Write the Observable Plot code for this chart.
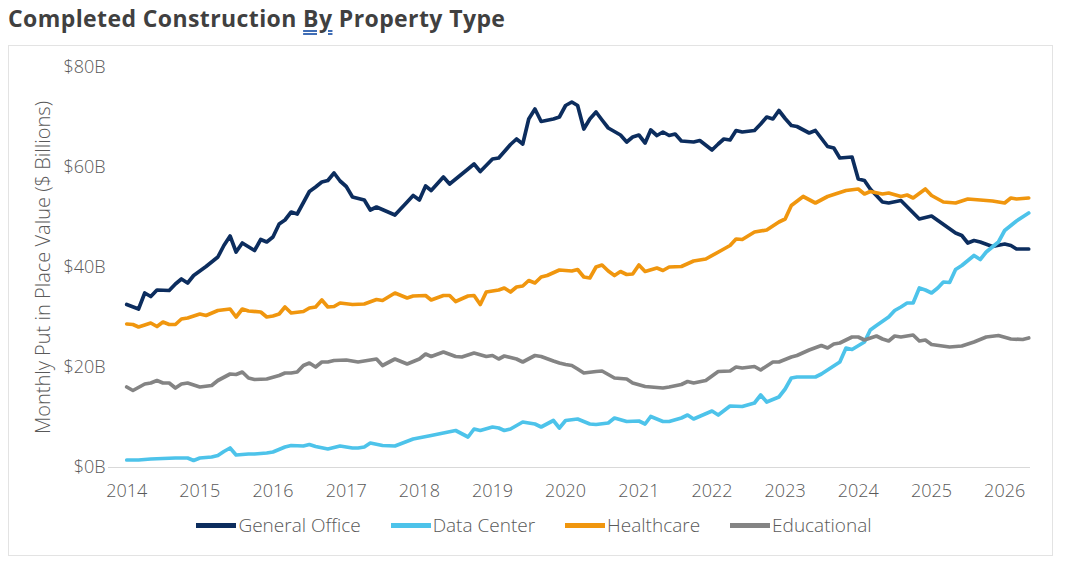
<!DOCTYPE html>
<html><head><meta charset="utf-8">
<script src="https://cdn.jsdelivr.net/npm/d3@7"></script>
<script src="https://cdn.jsdelivr.net/npm/@observablehq/plot@0.6"></script>
<style>
body{margin:0;background:#fff;font-family:"Open Sans",sans-serif;}
#wrap{position:relative;width:1068px;height:571px;overflow:hidden;}
#title{position:absolute;left:8px;top:2px;font-size:23px;letter-spacing:0.4px;font-weight:bold;color:#404040;white-space:nowrap;}
#title u{text-decoration:underline double #3f6db5;text-underline-offset:3px;}
#box{position:absolute;left:8px;top:45px;width:1043px;height:509px;border:1px solid #e3e3e3;}
#chart{position:absolute;left:0;top:45px;}
#legend{position:absolute;top:512px;left:0;width:1068px;display:flex;justify-content:center;gap:30px;font-size:19px;font-weight:300;color:#595959;}
.item{display:flex;align-items:center;}
.sw{display:inline-block;width:40px;height:5px;margin-right:2px;}
</style></head>
<body>
<div id="wrap">
  <div id="title">Completed Construction <u>By</u> Property Type</div>
  <div id="box"></div>
  <div id="chart"></div>
  <div id="legend"></div>
</div>
<script>
const seriesNames = ["General Office", "Data Center", "Healthcare", "Educational"];
const seriesColors = ["#0c2d5e", "#4dc3ea", "#f0960e", "#848484"];
const yearTicks = [2014,2015,2016,2017,2018,2019,2020,2021,2022,2023,2024,2025,2026];
const yTicks = [0, 20, 40, 60, 80];

const generalOffice = [["2014-01",32.6],["2014-03",31.7],["2014-04",34.9],["2014-05",34.2],["2014-06",35.5],["2014-08",35.4],["2014-09",36.7],["2014-10",37.7],["2014-11",36.9],["2014-12",38.4],["2015-02",40.2],["2015-04",42.1],["2015-05",44.4],["2015-06",46.3],["2015-07",43.1],["2015-08",44.9],["2015-10",43.4],["2015-11",45.6],["2015-12",45.1],["2016-01",46.1],["2016-02",48.7],["2016-03",49.5],["2016-04",51.1],["2016-05",50.7],["2016-07",55.2],["2016-08",56.1],["2016-09",57.1],["2016-10",57.4],["2016-11",58.9],["2016-12",57.3],["2017-01",56.2],["2017-02",54.1],["2017-04",53.5],["2017-05",51.5],["2017-06",52.1],["2017-09",50.5],["2017-11",53.1],["2017-12",54.4],["2018-01",53.5],["2018-02",56.3],["2018-03",55.4],["2018-05",58.1],["2018-06",56.7],["2018-09",59.7],["2018-10",60.7],["2018-11",59.2],["2019-01",61.7],["2019-02",61.9],["2019-04",64.6],["2019-05",65.7],["2019-06",64.7],["2019-07",69.7],["2019-08",71.7],["2019-09",69.2],["2019-11",69.7],["2019-12",70.1],["2020-01",72.4],["2020-02",73.1],["2020-03",72.4],["2020-04",67.7],["2020-05",69.7],["2020-06",71.1],["2020-07",69.5],["2020-08",67.9],["2020-10",66.5],["2020-11",65.1],["2020-12",66.1],["2021-01",66.5],["2021-02",64.9],["2021-03",67.5],["2021-04",66.4],["2021-05",67.1],["2021-06",66.4],["2021-07",66.7],["2021-08",65.3],["2021-10",65.1],["2021-11",65.4],["2022-01",63.5],["2022-02",64.7],["2022-03",65.7],["2022-04",65.5],["2022-05",67.4],["2022-06",67.1],["2022-08",67.4],["2022-09",68.7],["2022-10",70.1],["2022-11",69.7],["2022-12",71.4],["2023-01",69.8],["2023-02",68.4],["2023-03",68.2],["2023-05",66.9],["2023-06",67.4],["2023-08",64.2],["2023-09",63.9],["2023-10",61.9],["2023-12",62.1],["2024-01",57.7],["2024-02",57.4],["2024-03",55.7],["2024-05",53.1],["2024-06",52.9],["2024-08",53.4],["2024-11",49.7],["2025-01",50.3],["2025-05",46.9],["2025-06",46.4],["2025-07",44.9],["2025-08",45.4],["2025-09",45.1],["2025-11",44.2],["2026-01",44.7],["2026-02",44.4],["2026-03",43.7],["2026-05",43.7]];

const dataCenter = [["2014-01",1.5],["2014-03",1.5],["2014-05",1.7],["2014-07",1.8],["2014-09",1.9],["2014-11",1.9],["2014-12",1.4],["2015-01",1.9],["2015-03",2.1],["2015-04",2.4],["2015-05",3.2],["2015-06",3.9],["2015-07",2.5],["2015-09",2.7],["2015-10",2.7],["2015-12",2.9],["2016-01",3.1],["2016-03",4.1],["2016-04",4.4],["2016-06",4.3],["2016-07",4.6],["2016-08",4.2],["2016-10",3.7],["2016-12",4.3],["2017-02",3.9],["2017-03",3.9],["2017-04",4.1],["2017-05",4.9],["2017-07",4.4],["2017-09",4.3],["2017-12",5.7],["2018-03",6.4],["2018-05",6.9],["2018-07",7.4],["2018-09",6.1],["2018-10",7.7],["2018-11",7.4],["2019-01",8.1],["2019-02",7.9],["2019-03",7.4],["2019-04",7.7],["2019-06",9.1],["2019-07",8.9],["2019-08",8.7],["2019-09",8.1],["2019-11",9.4],["2019-12",7.9],["2020-01",9.4],["2020-03",9.7],["2020-05",8.7],["2020-06",8.6],["2020-08",8.9],["2020-09",9.9],["2020-11",9.2],["2021-01",9.3],["2021-02",8.7],["2021-03",10.2],["2021-05",9.2],["2021-06",9.2],["2021-08",9.9],["2021-09",10.5],["2021-10",9.7],["2022-01",11.3],["2022-02",10.5],["2022-04",12.3],["2022-06",12.2],["2022-08",12.9],["2022-09",14.5],["2022-10",13.1],["2022-12",14.1],["2023-01",15.7],["2023-02",17.9],["2023-03",18.1],["2023-06",18.1],["2023-07",18.7],["2023-10",21.1],["2023-11",23.9],["2023-12",23.6],["2024-02",25.1],["2024-03",27.5],["2024-04",28.4],["2024-06",30.1],["2024-07",31.4],["2024-08",32.1],["2024-09",32.9],["2024-10",32.9],["2024-11",35.9],["2024-12",35.5],["2025-01",34.9],["2025-02",35.9],["2025-03",37.1],["2025-04",37.0],["2025-05",39.6],["2025-06",40.4],["2025-08",42.4],["2025-09",41.6],["2025-10",43.1],["2025-12",45.1],["2026-01",47.4],["2026-03",49.3],["2026-05",50.9]];

const healthcare = [["2014-01",28.7],["2014-02",28.6],["2014-03",28.1],["2014-04",28.5],["2014-05",28.9],["2014-06",28.2],["2014-07",29.1],["2014-08",28.6],["2014-09",28.6],["2014-10",29.7],["2014-11",29.9],["2015-01",30.7],["2015-02",30.4],["2015-04",31.4],["2015-06",31.7],["2015-07",30.1],["2015-08",31.7],["2015-09",31.3],["2015-11",31.1],["2015-12",30.1],["2016-01",30.3],["2016-02",30.7],["2016-03",32.1],["2016-04",30.9],["2016-06",31.2],["2016-07",31.9],["2016-08",32.1],["2016-09",33.5],["2016-10",32.1],["2016-11",32.2],["2016-12",32.9],["2017-02",32.6],["2017-04",32.7],["2017-06",33.6],["2017-07",33.4],["2017-09",34.9],["2017-11",33.9],["2017-12",34.3],["2018-02",34.4],["2018-03",33.5],["2018-05",34.4],["2018-06",34.4],["2018-07",33.2],["2018-09",34.3],["2018-10",34.4],["2018-11",32.6],["2018-12",35.1],["2019-02",35.5],["2019-03",35.9],["2019-04",35.1],["2019-05",36.1],["2019-06",36.3],["2019-07",37.4],["2019-08",36.9],["2019-09",38.1],["2019-10",38.4],["2019-12",39.5],["2020-01",39.4],["2020-02",39.3],["2020-03",39.6],["2020-04",38.1],["2020-05",37.9],["2020-06",40.1],["2020-07",40.5],["2020-08",39.3],["2020-09",38.4],["2020-10",39.2],["2020-11",38.6],["2020-12",38.7],["2021-01",40.5],["2021-02",39.2],["2021-04",39.9],["2021-05",39.4],["2021-06",40.1],["2021-08",40.2],["2021-10",41.3],["2021-12",41.7],["2022-03",43.7],["2022-04",44.4],["2022-05",45.7],["2022-06",45.6],["2022-08",47.1],["2022-10",47.5],["2022-12",49.1],["2023-01",49.7],["2023-02",52.4],["2023-04",54.2],["2023-06",52.9],["2023-08",54.2],["2023-11",55.4],["2024-01",55.7],["2024-02",54.7],["2024-03",55.2],["2024-05",54.7],["2024-06",54.9],["2024-08",54.2],["2024-09",54.5],["2024-10",53.9],["2024-12",55.7],["2025-01",54.4],["2025-03",53.1],["2025-05",52.9],["2025-07",53.7],["2025-09",53.5],["2025-11",53.3],["2026-01",52.9],["2026-02",53.9],["2026-03",53.7],["2026-05",53.9]];

const educational = [["2014-01",16.1],["2014-02",15.4],["2014-04",16.7],["2014-05",16.9],["2014-06",17.4],["2014-07",16.9],["2014-08",16.9],["2014-09",15.9],["2014-10",16.7],["2014-11",16.9],["2015-01",16.1],["2015-03",16.4],["2015-04",17.4],["2015-06",18.7],["2015-07",18.6],["2015-08",19.1],["2015-09",17.9],["2015-10",17.6],["2015-12",17.7],["2016-02",18.4],["2016-03",18.9],["2016-04",18.9],["2016-05",19.1],["2016-06",20.4],["2016-07",20.9],["2016-08",20.1],["2016-09",21.1],["2016-10",21.1],["2016-11",21.4],["2017-01",21.5],["2017-03",21.1],["2017-06",21.7],["2017-07",20.4],["2017-09",21.7],["2017-11",20.7],["2018-01",21.7],["2018-02",22.7],["2018-03",22.2],["2018-05",23.1],["2018-07",22.2],["2018-08",22.1],["2018-10",22.9],["2018-12",22.2],["2019-01",22.4],["2019-02",21.7],["2019-03",22.3],["2019-05",21.7],["2019-06",21.1],["2019-08",22.4],["2019-09",22.2],["2019-11",21.3],["2019-12",20.9],["2020-01",20.6],["2020-02",20.4],["2020-03",19.7],["2020-04",18.9],["2020-06",19.2],["2020-07",19.3],["2020-09",17.9],["2020-11",17.7],["2020-12",16.9],["2021-02",16.2],["2021-05",15.9],["2021-06",16.1],["2021-08",16.6],["2021-09",17.2],["2021-10",16.9],["2021-12",17.4],["2022-02",19.2],["2022-04",19.3],["2022-05",20.1],["2022-06",19.9],["2022-08",20.2],["2022-09",19.5],["2022-11",21.1],["2022-12",21.1],["2023-02",22.1],["2023-03",22.4],["2023-05",23.5],["2023-07",24.4],["2023-08",23.9],["2023-09",24.7],["2023-10",24.9],["2023-12",26.1],["2024-01",26.1],["2024-02",25.5],["2024-04",26.3],["2024-05",25.7],["2024-06",25.3],["2024-07",26.3],["2024-08",26.1],["2024-10",26.5],["2024-11",25.3],["2024-12",25.5],["2025-01",24.6],["2025-04",24.1],["2025-06",24.3],["2025-08",25.1],["2025-10",26.1],["2025-12",26.4],["2026-02",25.7],["2026-04",25.6],["2026-05",25.9]];

const seriesData = [generalOffice, dataCenter, healthcare, educational];
const parse = d3.utcParse("%Y-%m");
const rows = seriesNames.flatMap((name, i) =>
  seriesData[i].map(([d, v]) => ({series: name, date: parse(d), value: v})));
const yearDates = yearTicks.map(y => new Date(Date.UTC(y, 0, 1)));

const chart = Plot.plot({
  width: 1068,
  height: 462,
  marginLeft: 108,
  marginRight: 38,
  marginTop: 22,
  marginBottom: 40,
  style: {fontFamily: "'Open Sans', sans-serif", fontSize: "18px", fontWeight: 300, color: "#595959", background: "transparent", overflow: "visible"},
  x: {type: "utc", domain: [new Date(Date.UTC(2013, 9, 2)), new Date(Date.UTC(2026, 4, 10))]},
  y: {domain: [0, 80]},
  color: {domain: seriesNames, range: seriesColors},
  marks: [
    Plot.ruleY([0], {stroke: "#d9d9d9", strokeWidth: 1}),
    Plot.line(rows, {x: "date", y: "value", z: "series", stroke: "series", strokeWidth: 3.7, strokeLinejoin: "round", strokeLinecap: "round"}),
    Plot.axisX({ticks: yearDates, tickFormat: d3.utcFormat("%Y"), tickSize: 0, tickPadding: 17, label: null, fill: "#595959"}),
    Plot.axisY({ticks: yTicks, tickFormat: d => `$${d}B`, tickSize: 0, tickPadding: 3, fill: "#595959",
      label: "Monthly Put in Place Value ($ Billions)", labelAnchor: "center", labelArrow: "none", labelOffset: 73})
  ]
});
const ylab = chart.querySelector('[aria-label="y-axis label"] text');
if (ylab) { ylab.setAttribute("font-size", "20px"); ylab.style.fontSize = "20px"; }
document.getElementById("chart").appendChild(chart);

const legend = document.getElementById("legend");
seriesNames.forEach((name, i) => {
  const item = document.createElement("div");
  item.className = "item";
  const sw = document.createElement("span");
  sw.className = "sw";
  sw.style.background = seriesColors[i];
  const lab = document.createElement("span");
  lab.textContent = name;
  item.appendChild(sw); item.appendChild(lab);
  legend.appendChild(item);
});
</script>
</body></html>
